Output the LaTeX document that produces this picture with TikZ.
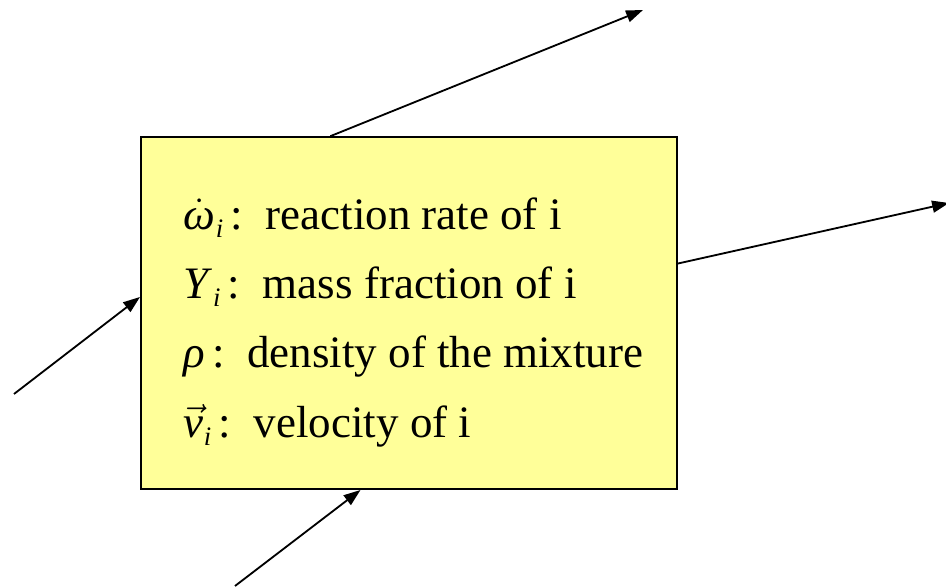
\RequirePackage{fix-cm}
\documentclass[tikz,border=0pt]{standalone}
\usepackage{amsmath}
\usepackage{fontspec}
\setmainfont{Liberation Serif}
\usetikzlibrary{arrows.meta,calc}
\definecolor{notefill}{RGB}{255,255,153}
\newcommand{\symit}[1]{\text{\itshape #1}}
\newcommand{\subi}{\kern0.5pt\lower5.5pt\hbox{\fontsize{19}{19}\selectfont\itshape i}}
\begin{document}
\begin{tikzpicture}[x=0.25cm,y=0.25cm,
    flow/.style={line width=1.3pt,-{Triangle[length=12pt,width=8.5pt]}},
    legend/.style={anchor=base west,inner sep=0pt,font=\fontsize{32}{38}\selectfont}]
  \useasboundingbox (0,0) rectangle (94.6,58.8);
  \clip (0,0) rectangle (94.6,58.8);
  % the box of symbols
  \node[draw,fill=notefill,line width=1.3pt,inner sep=0pt,anchor=south west,
    minimum width=13.4cm,minimum height=8.8cm] (box) at (14.0,9.8) {};
  \node[legend] (rate) at (18.3,35.8) {$\dot{\symit{ω}}$\subi\,:\enspace reaction rate of i};
  \node[legend] (mass) at (18.3,28.9) {\textit{Y}\subi\,:\enspace mass fraction of i};
  \node[legend] (dens) at (18.3,22.0) {\textit{ρ}\,:\enspace density of the mixture};
  \node[legend] (velo) at (18.3,15.0) {$\vec{\symit{v}}$\subi\,:\enspace velocity of i};
  % free ends
  \coordinate (outtop) at (64.3,57.8);
  \coordinate (outright) at (94.9,38.5);
  \coordinate (inleft) at (1.4,19.4);
  \coordinate (inbottom) at (23.5,0.2);
  \draw[flow] ($(box.north west)!0.354!(box.north east)$) -- (outtop);
  \draw[flow] ($(box.north east)!0.36!(box.south east)$) -- (outright);
  \draw[flow] (inleft) -- ($(box.north west)!0.4545!(box.south west)$);
  \draw[flow] (inbottom) -- ($(box.south west)!0.41!(box.south east)$);
\end{tikzpicture}
\end{document}
